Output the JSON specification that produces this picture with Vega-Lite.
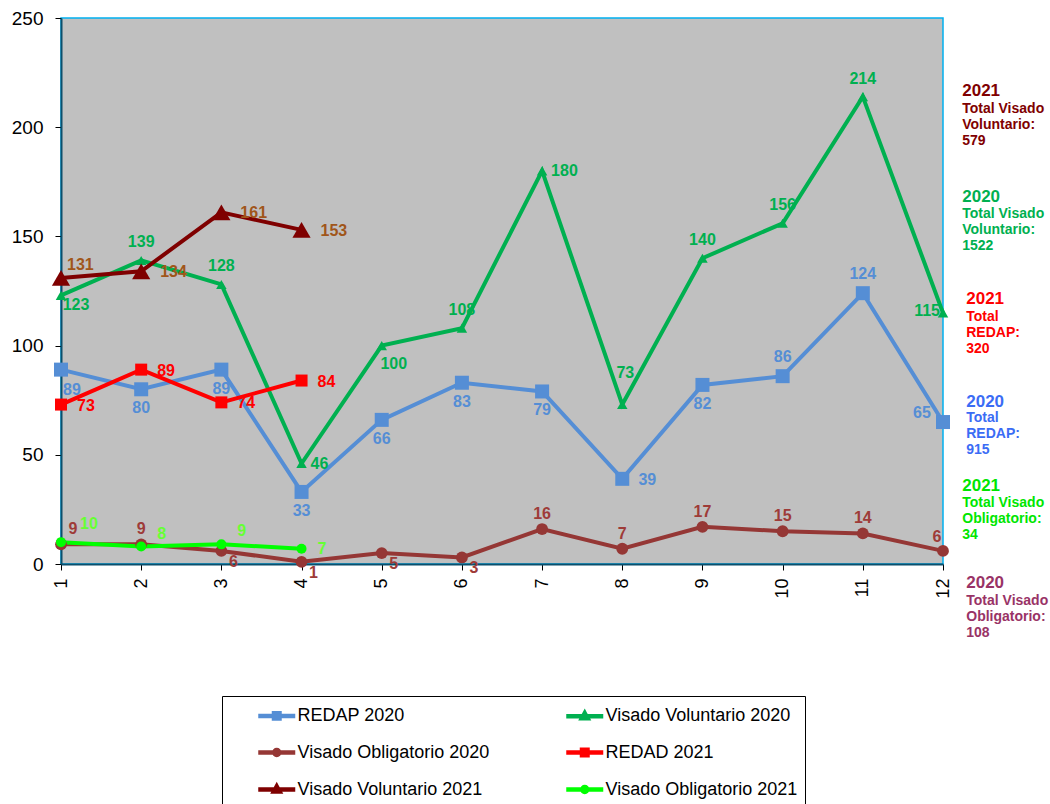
{
  "$schema": "https://vega.github.io/schema/vega-lite/v6.json",
  "width": 882,
  "height": 546,
  "autosize": "none",
  "padding": {"left": 61, "top": 18, "right": 107, "bottom": 240},
  "background": "white",
  "config": {
    "font": "Liberation Sans",
    "view": {"fill": "#C0C0C0", "stroke": "#00B0F0", "strokeWidth": 1.5}
  },
  "datasets": {
    "main": [
      {"series": "REDAP 2020", "month": 1, "value": 89},
      {"series": "REDAP 2020", "month": 2, "value": 80},
      {"series": "REDAP 2020", "month": 3, "value": 89},
      {"series": "REDAP 2020", "month": 4, "value": 33},
      {"series": "REDAP 2020", "month": 5, "value": 66},
      {"series": "REDAP 2020", "month": 6, "value": 83},
      {"series": "REDAP 2020", "month": 7, "value": 79},
      {"series": "REDAP 2020", "month": 8, "value": 39},
      {"series": "REDAP 2020", "month": 9, "value": 82},
      {"series": "REDAP 2020", "month": 10, "value": 86},
      {"series": "REDAP 2020", "month": 11, "value": 124},
      {"series": "REDAP 2020", "month": 12, "value": 65},
      {"series": "Visado Voluntario 2020", "month": 1, "value": 123},
      {"series": "Visado Voluntario 2020", "month": 2, "value": 139},
      {"series": "Visado Voluntario 2020", "month": 3, "value": 128},
      {"series": "Visado Voluntario 2020", "month": 4, "value": 46},
      {"series": "Visado Voluntario 2020", "month": 5, "value": 100},
      {"series": "Visado Voluntario 2020", "month": 6, "value": 108},
      {"series": "Visado Voluntario 2020", "month": 7, "value": 180},
      {"series": "Visado Voluntario 2020", "month": 8, "value": 73},
      {"series": "Visado Voluntario 2020", "month": 9, "value": 140},
      {"series": "Visado Voluntario 2020", "month": 10, "value": 156},
      {"series": "Visado Voluntario 2020", "month": 11, "value": 214},
      {"series": "Visado Voluntario 2020", "month": 12, "value": 115},
      {"series": "Visado Obligatorio 2020", "month": 1, "value": 9},
      {"series": "Visado Obligatorio 2020", "month": 2, "value": 9},
      {"series": "Visado Obligatorio 2020", "month": 3, "value": 6},
      {"series": "Visado Obligatorio 2020", "month": 4, "value": 1},
      {"series": "Visado Obligatorio 2020", "month": 5, "value": 5},
      {"series": "Visado Obligatorio 2020", "month": 6, "value": 3},
      {"series": "Visado Obligatorio 2020", "month": 7, "value": 16},
      {"series": "Visado Obligatorio 2020", "month": 8, "value": 7},
      {"series": "Visado Obligatorio 2020", "month": 9, "value": 17},
      {"series": "Visado Obligatorio 2020", "month": 10, "value": 15},
      {"series": "Visado Obligatorio 2020", "month": 11, "value": 14},
      {"series": "Visado Obligatorio 2020", "month": 12, "value": 6},
      {"series": "REDAD 2021", "month": 1, "value": 73},
      {"series": "REDAD 2021", "month": 2, "value": 89},
      {"series": "REDAD 2021", "month": 3, "value": 74},
      {"series": "REDAD 2021", "month": 4, "value": 84},
      {"series": "Visado Voluntario 2021", "month": 1, "value": 131},
      {"series": "Visado Voluntario 2021", "month": 2, "value": 134},
      {"series": "Visado Voluntario 2021", "month": 3, "value": 161},
      {"series": "Visado Voluntario 2021", "month": 4, "value": 153},
      {"series": "Visado Obligatorio 2021", "month": 1, "value": 10},
      {"series": "Visado Obligatorio 2021", "month": 2, "value": 8},
      {"series": "Visado Obligatorio 2021", "month": 3, "value": 9},
      {"series": "Visado Obligatorio 2021", "month": 4, "value": 7}
    ],
    "notes": [
      {"note": "VV2021", "kind": "year", "text": "2021", "month": 12.24, "value": 216.6},
      {"note": "VV2021", "kind": "body", "text": "Total Visado\nVoluntario:\n579", "month": 12.24, "value": 208.2},
      {"note": "VV2020", "kind": "year", "text": "2020", "month": 12.24, "value": 168},
      {"note": "VV2020", "kind": "body", "text": "Total Visado\nVoluntario:\n1522", "month": 12.24, "value": 160.2},
      {"note": "RD2021", "kind": "year", "text": "2021", "month": 12.29, "value": 121.3},
      {"note": "RD2021", "kind": "body", "text": "Total\nREDAP:\n320", "month": 12.29, "value": 113.1},
      {"note": "RP2020", "kind": "year", "text": "2020", "month": 12.29, "value": 74.2},
      {"note": "RP2020", "kind": "body", "text": "Total\nREDAP:\n915", "month": 12.29, "value": 66.8},
      {"note": "VO2021", "kind": "year", "text": "2021", "month": 12.24, "value": 35.7},
      {"note": "VO2021", "kind": "body", "text": "Total Visado\nObligatorio:\n34", "month": 12.24, "value": 27.9},
      {"note": "VO2020", "kind": "year", "text": "2020", "month": 12.29, "value": -8.7},
      {"note": "VO2020", "kind": "body", "text": "Total Visado\nObligatorio:\n108", "month": 12.29, "value": -16.9}
    ]
  },
  "data": {"name": "main"},
  "encoding": {
    "x": {
      "field": "month", "type": "quantitative",
      "scale": {"domain": [1, 12], "nice": false, "zero": false},
      "axis": {
        "values": [1, 2, 3, 4, 5, 6, 7, 8, 9, 10, 11, 12], "format": "d",
        "labelAngle": -90, "labelFontSize": 18, "labelColor": "black", "labelPadding": 8,
        "tickColor": "black", "tickSize": 6, "domainColor": "#0B4F6C", "domainWidth": 2,
        "grid": false, "title": null
      }
    },
    "y": {
      "field": "value", "type": "quantitative",
      "scale": {"domain": [0, 250], "nice": false},
      "axis": {
        "values": [0, 50, 100, 150, 200, 250],
        "labelFontSize": 19, "labelColor": "black", "labelPadding": 12,
        "tickColor": "black", "tickSize": 6, "domainColor": "#0B4F6C", "domainWidth": 2,
        "grid": false, "title": null
      }
    }
  },
  "layer": [
    {
      "mark": {"type": "line", "strokeWidth": 4, "clip": false},
      "encoding": {
        "color": {
          "field": "series", "type": "nominal", "sort": null,
          "scale": {
            "domain": ["REDAP 2020", "Visado Voluntario 2020", "Visado Obligatorio 2020", "REDAD 2021", "Visado Voluntario 2021", "Visado Obligatorio 2021"],
            "range": ["#558ED5", "#00B050", "#953735", "#FF0000", "#7F0000", "#00FF00"]
          },
          "legend": {
            "title": null, "orient": "none", "legendX": 161, "legendY": 678,
            "columns": 2, "direction": "horizontal", "columnPadding": 47, "rowPadding": 12,
            "strokeColor": "black", "fillColor": "white", "padding": 7,
            "labelFontSize": 18, "labelColor": "black", "labelFont": "Liberation Sans", "labelOffset": 1, "labelLimit": 400,
            "symbolSize": 400, "symbolStrokeWidth": 4.5, "symbolOffset": 42.5,
            "encode": {
              "symbols": {
                "update": {
                  "shape": {"signal": "(datum.value == 'REDAP 2020' || datum.value == 'REDAD 2021') ? 'M-2.575,0H1.125M-1.0,-0.27H-0.45V0.27H-1.0Z' : (indexof(datum.value, 'Voluntario') >= 0 ? 'M-2.575,0H1.125M-0.725,-0.3L-0.45,0.2H-1.0Z' : 'M-2.575,0H1.125M-0.975,0A0.25,0.25 0 1,0 -0.475,0A0.25,0.25 0 1,0 -0.975,0Z')"},
                  "fill": {"signal": "scale('color', datum.value)"},
                  "stroke": {"signal": "scale('color', datum.value)"}
                }
              }
            }
          }
        }
      }
    },
    {
      "transform": [{"filter": "datum.series == 'REDAP 2020'"}],
      "mark": {"type": "point", "shape": "square", "size": 196, "filled": true, "opacity": 1, "fill": "#558ED5", "clip": false}
    },
    {
      "transform": [{"filter": "datum.series == 'Visado Voluntario 2020'"}],
      "mark": {"type": "point", "shape": "triangle-up", "size": 110, "filled": true, "opacity": 1, "fill": "#00B050", "clip": false}
    },
    {
      "transform": [{"filter": "datum.series == 'Visado Obligatorio 2020'"}],
      "mark": {"type": "point", "shape": "circle", "size": 140, "filled": true, "opacity": 1, "fill": "#953735", "clip": false}
    },
    {
      "transform": [{"filter": "datum.series == 'REDAD 2021'"}],
      "mark": {"type": "point", "shape": "square", "size": 144, "filled": true, "opacity": 1, "fill": "#FF0000", "clip": false}
    },
    {
      "transform": [{"filter": "datum.series == 'Visado Voluntario 2021'"}],
      "mark": {"type": "point", "shape": "triangle-up", "size": 330, "filled": true, "opacity": 1, "fill": "#7F0000", "clip": false}
    },
    {
      "transform": [{"filter": "datum.series == 'Visado Obligatorio 2021'"}],
      "mark": {"type": "point", "shape": "circle", "size": 100, "filled": true, "opacity": 1, "fill": "#00FF00", "clip": false}
    },
    {
      "transform": [{"filter": "datum.series == 'REDAP 2020' && datum.month != 8 && datum.month != 1 && datum.month < 10"}],
      "mark": {"type": "text", "fontWeight": "bold", "fontSize": 16, "fill": "#558ED5", "dy": 19, "baseline": "middle"},
      "encoding": {"text": {"field": "value", "type": "quantitative"}}
    },
    {
      "transform": [{"filter": "datum.series == 'REDAP 2020' && datum.month == 1"}],
      "mark": {"type": "text", "fontWeight": "bold", "fontSize": 16, "fill": "#558ED5", "dx": 11, "dy": 20, "baseline": "middle"},
      "encoding": {"text": {"field": "value", "type": "quantitative"}}
    },
    {
      "transform": [{"filter": "datum.series == 'REDAP 2020' && datum.month == 8"}],
      "mark": {"type": "text", "fontWeight": "bold", "fontSize": 16, "fill": "#558ED5", "dx": 25, "dy": 1, "baseline": "middle"},
      "encoding": {"text": {"field": "value", "type": "quantitative"}}
    },
    {
      "transform": [{"filter": "datum.series == 'REDAP 2020' && (datum.month == 10 || datum.month == 11)"}],
      "mark": {"type": "text", "fontWeight": "bold", "fontSize": 16, "fill": "#558ED5", "dy": -19, "baseline": "middle"},
      "encoding": {"text": {"field": "value", "type": "quantitative"}}
    },
    {
      "transform": [{"filter": "datum.series == 'REDAP 2020' && datum.month == 12"}],
      "mark": {"type": "text", "fontWeight": "bold", "fontSize": 16, "fill": "#558ED5", "dx": -21, "dy": -9, "baseline": "middle"},
      "encoding": {"text": {"field": "value", "type": "quantitative"}}
    },
    {
      "transform": [{"filter": "datum.series == 'Visado Voluntario 2020' && (datum.month == 2 || datum.month == 3 || datum.month == 6 || (datum.month >= 9 && datum.month <= 11))"}],
      "mark": {"type": "text", "fontWeight": "bold", "fontSize": 16, "fill": "#00B050", "dy": -18, "baseline": "middle"},
      "encoding": {"text": {"field": "value", "type": "quantitative"}}
    },
    {
      "transform": [{"filter": "datum.series == 'Visado Voluntario 2020' && datum.month == 8"}],
      "mark": {"type": "text", "fontWeight": "bold", "fontSize": 16, "fill": "#00B050", "dx": 3, "dy": -32, "baseline": "middle"},
      "encoding": {"text": {"field": "value", "type": "quantitative"}}
    },
    {
      "transform": [{"filter": "datum.series == 'Visado Voluntario 2020' && datum.month == 1"}],
      "mark": {"type": "text", "fontWeight": "bold", "fontSize": 16, "fill": "#00B050", "dx": 15, "dy": 10, "baseline": "middle"},
      "encoding": {"text": {"field": "value", "type": "quantitative"}}
    },
    {
      "transform": [{"filter": "datum.series == 'Visado Voluntario 2020' && (datum.month == 4 || datum.month == 7)"}],
      "mark": {"type": "text", "fontWeight": "bold", "fontSize": 16, "fill": "#00B050", "align": "left", "dx": 9, "dy": 0, "baseline": "middle"},
      "encoding": {"text": {"field": "value", "type": "quantitative"}}
    },
    {
      "transform": [{"filter": "datum.series == 'Visado Voluntario 2020' && datum.month == 5"}],
      "mark": {"type": "text", "fontWeight": "bold", "fontSize": 16, "fill": "#00B050", "dx": 12, "dy": 18, "baseline": "middle"},
      "encoding": {"text": {"field": "value", "type": "quantitative"}}
    },
    {
      "transform": [{"filter": "datum.series == 'Visado Voluntario 2020' && datum.month == 12"}],
      "mark": {"type": "text", "fontWeight": "bold", "fontSize": 16, "fill": "#00B050", "align": "right", "dx": -3, "dy": -2, "baseline": "middle"},
      "encoding": {"text": {"field": "value", "type": "quantitative"}}
    },
    {
      "transform": [{"filter": "datum.series == 'Visado Obligatorio 2020' && (datum.month == 2 || (datum.month >= 7 && datum.month <= 11))"}],
      "mark": {"type": "text", "fontWeight": "bold", "fontSize": 16, "fill": "#9E3B38", "dy": -15, "baseline": "middle"},
      "encoding": {"text": {"field": "value", "type": "quantitative"}}
    },
    {
      "transform": [{"filter": "datum.series == 'Visado Obligatorio 2020' && datum.month == 1"}],
      "mark": {"type": "text", "fontWeight": "bold", "fontSize": 16, "fill": "#9E3B38", "dx": 12, "dy": -15, "baseline": "middle"},
      "encoding": {"text": {"field": "value", "type": "quantitative"}}
    },
    {
      "transform": [{"filter": "datum.series == 'Visado Obligatorio 2020' && datum.month == 12"}],
      "mark": {"type": "text", "fontWeight": "bold", "fontSize": 16, "fill": "#9E3B38", "dx": -6, "dy": -14, "baseline": "middle"},
      "encoding": {"text": {"field": "value", "type": "quantitative"}}
    },
    {
      "transform": [{"filter": "datum.series == 'Visado Obligatorio 2020' && datum.month >= 3 && datum.month <= 6"}],
      "mark": {"type": "text", "fontWeight": "bold", "fontSize": 16, "fill": "#9E3B38", "dx": 12, "dy": 11, "baseline": "middle"},
      "encoding": {"text": {"field": "value", "type": "quantitative"}}
    },
    {
      "transform": [{"filter": "datum.series == 'REDAD 2021'"}],
      "mark": {"type": "text", "fontWeight": "bold", "fontSize": 16, "fill": "#FF0000", "align": "left", "dx": 16, "dy": 1, "baseline": "middle"},
      "encoding": {"text": {"field": "value", "type": "quantitative"}}
    },
    {
      "transform": [{"filter": "datum.series == 'Visado Voluntario 2021' && datum.month > 1"}],
      "mark": {"type": "text", "fontWeight": "bold", "fontSize": 16, "fill": "#A0561A", "align": "left", "dx": 19, "dy": 1, "baseline": "middle"},
      "encoding": {"text": {"field": "value", "type": "quantitative"}}
    },
    {
      "transform": [{"filter": "datum.series == 'Visado Voluntario 2021' && datum.month == 1"}],
      "mark": {"type": "text", "fontWeight": "bold", "fontSize": 16, "fill": "#A0561A", "align": "left", "dx": 6, "dy": -13, "baseline": "middle"},
      "encoding": {"text": {"field": "value", "type": "quantitative"}}
    },
    {
      "transform": [{"filter": "datum.series == 'Visado Obligatorio 2021' && (datum.month == 2 || datum.month == 3)"}],
      "mark": {"type": "text", "fontWeight": "bold", "fontSize": 16, "fill": "#66FF33", "align": "left", "dx": 16, "dy": -13, "baseline": "middle"},
      "encoding": {"text": {"field": "value", "type": "quantitative"}}
    },
    {
      "transform": [{"filter": "datum.series == 'Visado Obligatorio 2021' && datum.month == 1"}],
      "mark": {"type": "text", "fontWeight": "bold", "fontSize": 16, "fill": "#66FF33", "align": "left", "dx": 19, "dy": -18, "baseline": "middle"},
      "encoding": {"text": {"field": "value", "type": "quantitative"}}
    },
    {
      "transform": [{"filter": "datum.series == 'Visado Obligatorio 2021' && datum.month == 4"}],
      "mark": {"type": "text", "fontWeight": "bold", "fontSize": 16, "fill": "#66FF33", "align": "left", "dx": 16, "dy": 0, "baseline": "middle"},
      "encoding": {"text": {"field": "value", "type": "quantitative"}}
    },
    {
      "data": {"name": "notes"},
      "transform": [{"filter": "datum.kind == 'year'"}],
      "mark": {"type": "text", "fontWeight": "bold", "fontSize": 17, "align": "left", "baseline": "middle"},
      "encoding": {
        "text": {"field": "text", "type": "nominal"},
        "fill": {
          "field": "note", "type": "nominal", "legend": null,
          "scale": {"domain": ["VV2021", "VV2020", "RD2021", "RP2020", "VO2021", "VO2020"], "range": ["#800000", "#00B050", "#FF0000", "#3B6CF5", "#00E600", "#993366"]}
        }
      }
    },
    {
      "data": {"name": "notes"},
      "transform": [{"filter": "datum.kind == 'body'"}],
      "mark": {"type": "text", "fontWeight": "bold", "fontSize": 14, "align": "left", "baseline": "middle", "lineBreak": "\n", "lineHeight": 16},
      "encoding": {
        "text": {"field": "text", "type": "nominal"},
        "fill": {"field": "note", "type": "nominal", "legend": null}
      }
    }
  ]
}
